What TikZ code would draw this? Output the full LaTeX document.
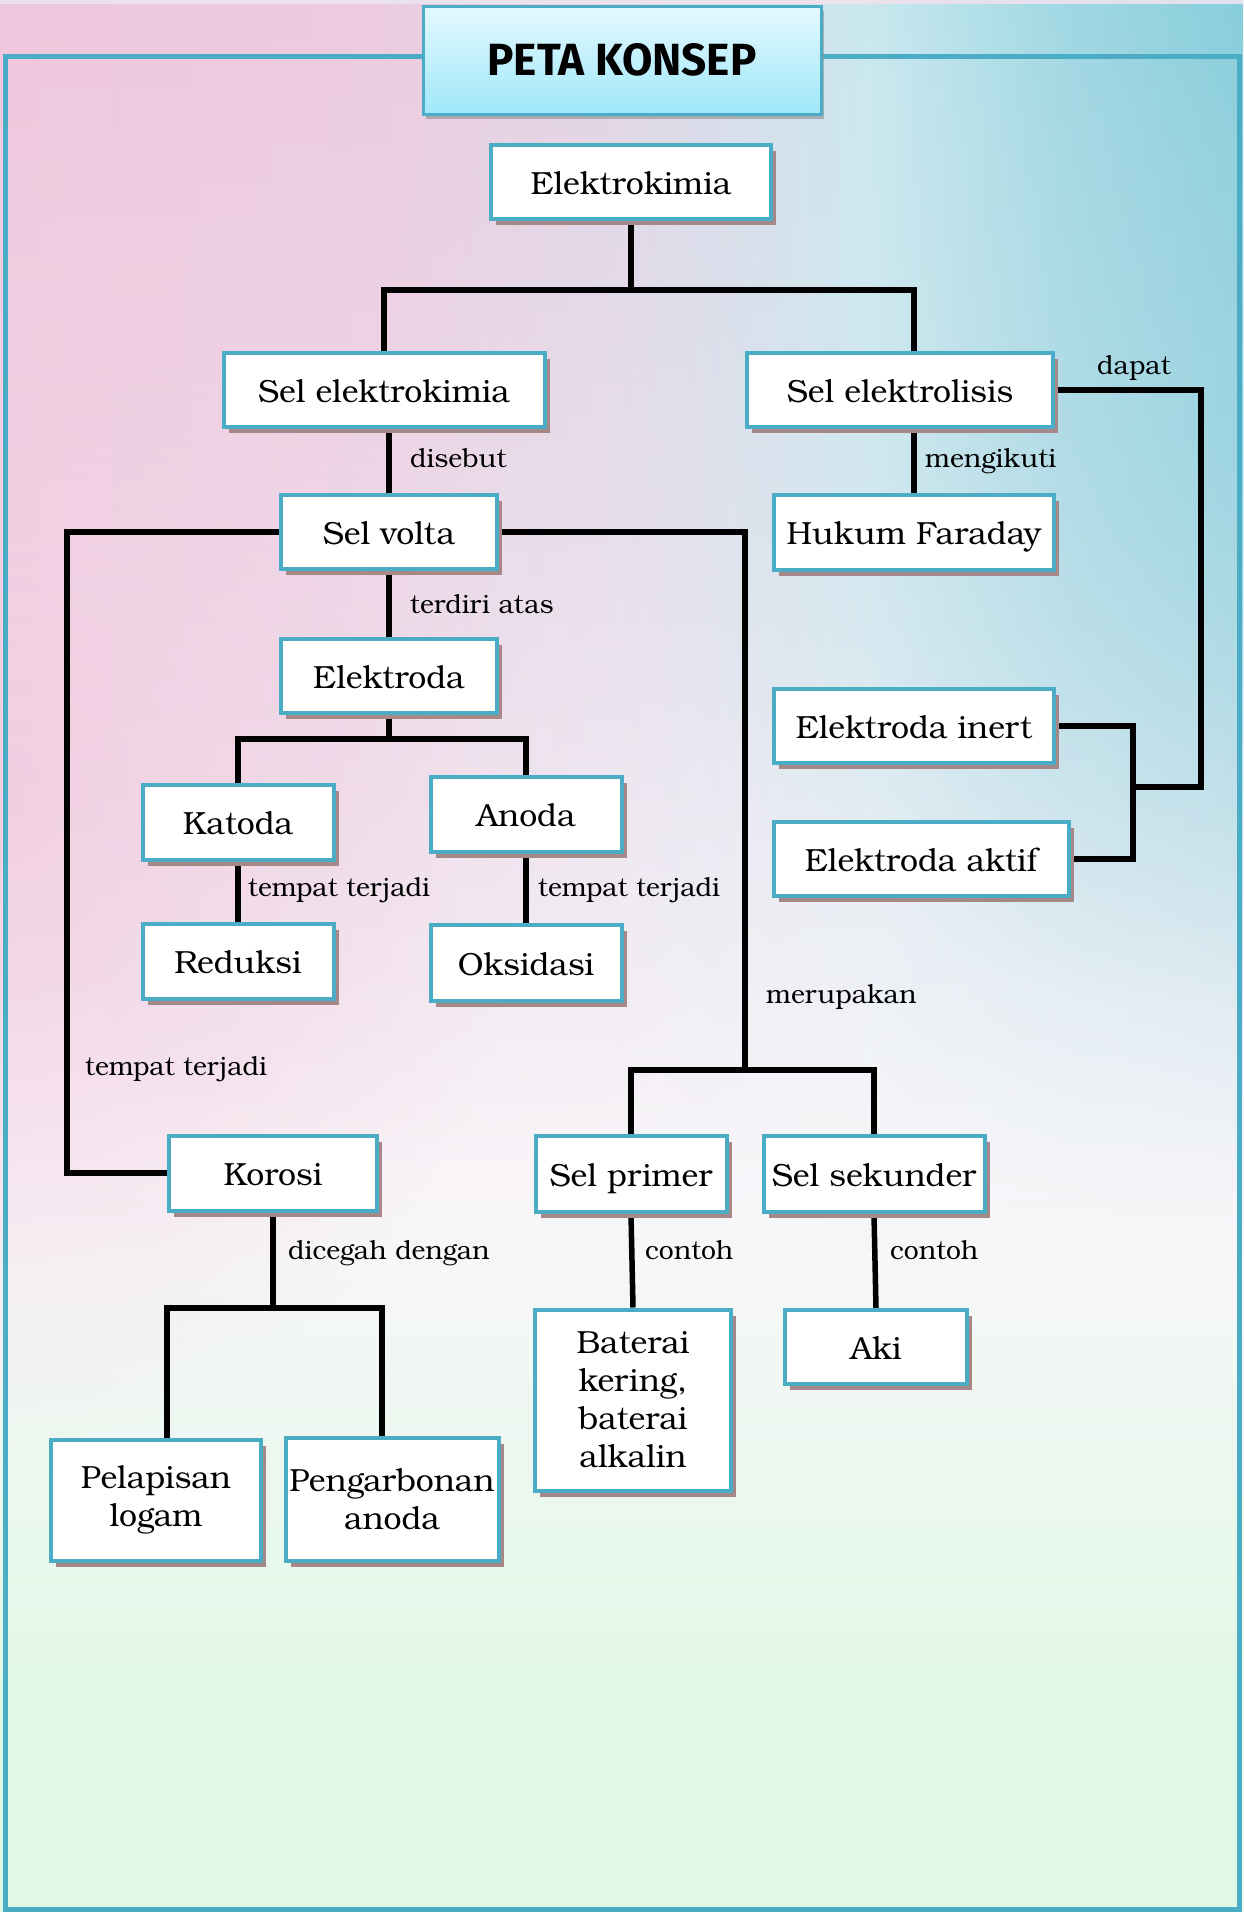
\documentclass[tikz,border=0pt]{standalone}
\usepackage{fontspec}
\usepackage{graphicx}
\setmainfont{texgyrebonum}[Extension=.otf, UprightFont=*-regular, BoldFont=*-bold, ItalicFont=*-italic, BoldItalicFont=*-bolditalic]
\newfontfamily\titlefont{Fira Sans}
\usetikzlibrary{shadows,fadings}

\definecolor{teal1}{RGB}{75,172,198}
\definecolor{shad}{RGB}{166,136,136}
\definecolor{pk}{RGB}{241,198,220}
\definecolor{lav}{RGB}{224,214,230}
\definecolor{cy}{RGB}{136,206,220}
\definecolor{bgT}{RGB}{236,226,238}
\definecolor{bgW}{RGB}{250,247,250}
\definecolor{bgG}{RGB}{224,248,230}
\definecolor{tiT}{RGB}{228,249,255}
\definecolor{tiB}{RGB}{160,232,250}

\pgfdeclareverticalshading{bgv}{100bp}{color(0bp)=(bgG); color(25bp)=(bgG); color(30bp)=(bgG); color(37bp)=(bgG!50!bgW); color(44bp)=(bgW); color(75bp)=(bgT); color(100bp)=(bgT)}
\pgfdeclarehorizontalshading{band}{100bp}{color(0bp)=(pk); color(25bp)=(pk); color(40bp)=(pk!70!lav); color(50bp)=(lav); color(60bp)=(cy!45!white); color(68bp)=(cy!80!white); color(75bp)=(cy); color(100bp)=(cy)}
\tikzfading[name=fadedown, top color=transparent!0, bottom color=transparent!100]
\tikzfading[name=blob, inner color=transparent!35, outer color=transparent!100]

\pgfdeclarelayer{bg}
\pgfdeclarelayer{lines}
\pgfsetlayers{bg,lines,main}

\tikzset{
  boxbase/.style={draw=teal1, line width=4pt, fill=white, inner sep=0pt,
    font=\fontsize{32}{38}\selectfont,
    drop shadow={shadow xshift=5pt, shadow yshift=-6pt, fill=shad, opacity=1}},
  box/.style={boxbase, text height=27pt, text depth=3pt},
  mbox/.style={boxbase, align=center},
  lbl/.style={font=\fontsize{26.5}{30}\selectfont, anchor=base west, inner sep=0pt},
  link/.style={line width=5.5pt, black, line join=miter},
}

\begin{document}
\begin{tikzpicture}[x=1pt,y=-1pt]
\useasboundingbox (0,0) rectangle (1243,1912);

% background
\begin{pgfonlayer}{bg}
  \shade[shading=bgv] (0,0) rectangle (1243,1912);
  \fill[pk, path fading=blob] (0,800) ellipse [x radius=540, y radius=640];
  \fill[cy!70!white, path fading=blob] (1243,450) ellipse [x radius=620, y radius=560];
  \shade[shading=band, path fading=fadedown] (0,0) rectangle (1243,1250);
  \draw[teal1, line width=5pt] (422,56) -- (5,56) -- (5,1909) -- (1239,1909) -- (1239,56) -- (823,56);
\end{pgfonlayer}

% title
\node[draw=teal1, line width=3pt, top color=tiT, bottom color=tiB, minimum width=398pt, minimum height=108pt, inner sep=0pt,
  drop shadow={shadow xshift=3pt, shadow yshift=-5pt, fill=black!45, opacity=.6}]
  (tt) at (622,60) {\resizebox{269pt}{32pt}{\titlefont\bfseries PETA KONSEP}};

% nodes
\node[box, minimum width=280pt, minimum height=74pt] (ek) at (631,182) {Elektrokimia};
\node[box, minimum width=321pt, minimum height=74pt] (se) at (384,390) {Sel elektrokimia};
\node[box, minimum width=306pt, minimum height=74pt] (sl) at (900,390) {Sel elektrolisis};
\node[box, minimum width=216pt, minimum height=74pt] (sv) at (389,532) {Sel volta};
\node[box, minimum width=280pt, minimum height=75pt] (hf) at (914,532) {Hukum Faraday};
\node[box, minimum width=216pt, minimum height=74pt] (el) at (389,676) {Elektroda};
\node[box, minimum width=280pt, minimum height=74pt] (ei) at (914,726) {Elektroda inert};
\node[box, minimum width=295pt, minimum height=74pt] (ea) at (921,859) {Elektroda aktif};
\node[box, minimum width=191pt, minimum height=75pt] (ka) at (238,822) {Katoda};
\node[box, minimum width=191pt, minimum height=75pt] (an) at (526,814) {Anoda};
\node[box, minimum width=191pt, minimum height=75pt] (re) at (238,961) {Reduksi};
\node[box, minimum width=191pt, minimum height=76pt] (ok) at (526,963) {Oksidasi};
\node[box, minimum width=208pt, minimum height=75pt] (kr) at (273,1173) {Korosi};
\node[box, minimum width=191pt, minimum height=76pt] (sp) at (631,1174) {Sel primer};
\node[box, minimum width=221pt, minimum height=76pt] (ss) at (874,1174) {Sel sekunder};
\node[mbox, minimum width=210pt, minimum height=121pt] (pl) at (156,1500) {Pelapisan\\logam};
\node[mbox, minimum width=213pt, minimum height=123pt] (pa) at (392,1499) {Pengarbonan\\anoda};
\node[mbox, minimum width=196pt, minimum height=181pt] (bt) at (633,1400) {Baterai\\kering,\\baterai\\alkalin};
\node[box, minimum width=182pt, minimum height=74pt] (ak) at (876,1347) {Aki};

% labels
\node[lbl] (l1) at (410,467) {disebut};
\node[lbl] (l2) at (925,467) {mengikuti};
\node[lbl] (l3) at (1097,374) {dapat};
\node[lbl] (l4) at (410,613) {terdiri atas};
\node[lbl] (l5) at (248,896) {tempat terjadi};
\node[lbl] (l6) at (538,896) {tempat terjadi};
\node[lbl] (l7) at (766,1003) {merupakan};
\node[lbl] (l8) at (85,1075) {tempat terjadi};
\node[lbl] (l9) at (288,1259) {dicegah dengan};
\node[lbl] (l10) at (645,1259) {contoh};
\node[lbl] (l11) at (890,1259) {contoh};

% connectors
\coordinate (j1) at (631,290);
\coordinate (j2) at (389,739);
\coordinate (lc) at (67,850);
\coordinate (rj) at (745,1070);
\coordinate (kj) at (273,1308);
\coordinate (kjl) at (167,1308);
\coordinate (kjr) at (382,1308);
\coordinate (dc) at (1201,787);
\coordinate (dj) at (1133,787);
\begin{pgfonlayer}{lines}
  \draw[link] (ek.south) -- (j1);
  \draw[link] (se.north) |- (j1) -| (sl.north -| hf.north);
  \draw[link] (sv.north |- se.south) -- (sv.north);
  \draw[link] (hf.north |- sl.south) -- (hf.north);
  \draw[link] (sv.south) -- (el.north);
  \draw[link] (el.south) -- (j2);
  \draw[link] (ka.north) |- (j2) -| (an.north);
  \draw[link] (ka.south) -- (re.north);
  \draw[link] (an.south) -- (ok.north);
  \draw[link] (sv.west) -| (lc) |- (kr.west);
  \draw[link] (sv.east) -| (rj);
  \draw[link] (sp.north) |- (rj) -| (ss.north);
  \draw[link] (sp.south) -- (bt.north);
  \draw[link] (ss.south) -- (ak.north);
  \draw[link] (kr.south) -- (kj);
  \draw[link] (kjl |- pl.north) -- (kjl) -- (kjr) -- (kjr |- pa.north);
  \draw[link] (sl.east) -| (dc) -- (dj);
  \draw[link] (ei.east) -| (dj) |- (ea.east);
\end{pgfonlayer}
\end{tikzpicture}
\end{document}
